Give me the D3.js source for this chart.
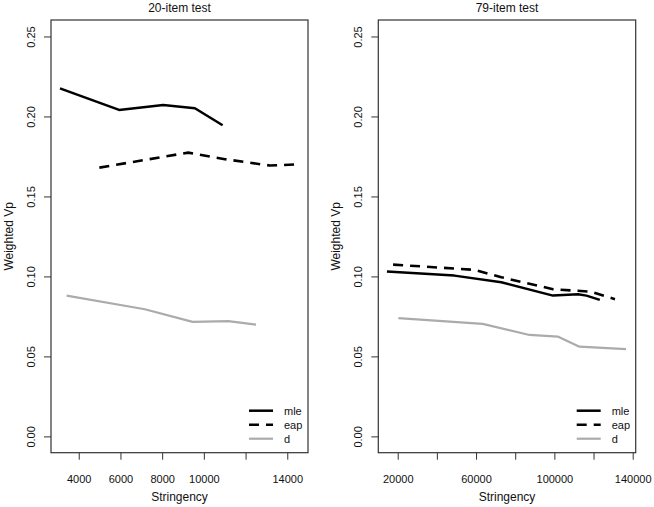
<!DOCTYPE html>
<html>
<head>
<meta charset="utf-8">
<script src="https://cdn.jsdelivr.net/npm/d3@7"></script>
<style>
  body { margin: 0; background: #fff; }
  text { font-family: "Liberation Sans", Arial, sans-serif; fill: #111; }
</style>
</head>
<body>
<svg id="chart"></svg>
<script>
// 20-item test
const s20Mle = [3100, 5935, 8050, 9570, 10900];
const vp20Mle = [0.2176, 0.2041, 0.2072, 0.2051, 0.1945];
const s20Eap = [4990, 9250, 11010, 13170, 14530];
const vp20Eap = [0.168, 0.1774, 0.1733, 0.1693, 0.1701];
const s20D = [3420, 7170, 9460, 11170, 12500];
const vp20D = [0.088, 0.0795, 0.0716, 0.072, 0.0699];

// 79-item test
const s79Mle = [14500, 48950, 72900, 99300, 112100, 116400, 123200];
const vp79Mle = [0.103, 0.1005, 0.0964, 0.088, 0.0889, 0.088, 0.0853];
const s79Eap = [17650, 59300, 72900, 99300, 118300, 130950];
const vp79Eap = [0.1074, 0.1041, 0.0995, 0.092, 0.0905, 0.0858];
const s79D = [20350, 63400, 87300, 101700, 112800, 136600];
const vp79D = [0.0739, 0.0703, 0.0634, 0.0624, 0.0561, 0.0545];

const yTicks = [0, 0.05, 0.10, 0.15, 0.20, 0.25];
const xTicks20 = [4000, 6000, 8000, 10000, 12000, 14000];
const xLabels20 = ["4000", "6000", "8000", "10000", "", "14000"];
const xTicks79 = [20000, 40000, 60000, 80000, 100000, 120000, 140000];
const xLabels79 = ["20000", "", "60000", "", "100000", "", "140000"];
const seriesNames = ["mle", "eap", "d"];

const width = 654, height = 507;
const plotTop = 20, plotBottom = 452.7;

const svg = d3.select("#chart").attr("width", width).attr("height", height);

const styles = {
  mle: { stroke: "#000", width: 2.5, dash: null },
  eap: { stroke: "#000", width: 2.6, dash: "10,7" },
  d: { stroke: "#ababab", width: 2.2, dash: null }
};

const panels = [
  {
    title: "20-item test", left: 51, right: 308, xDomain: [2670, 14994],
    xTicks: xTicks20, xLabels: xLabels20,
    series: { mle: [s20Mle, vp20Mle], eap: [s20Eap, vp20Eap], d: [s20D, vp20D] }
  },
  {
    title: "79-item test", left: 378.3, right: 635.7, xDomain: [10090, 141530],
    xTicks: xTicks79, xLabels: xLabels79,
    series: { mle: [s79Mle, vp79Mle], eap: [s79Eap, vp79Eap], d: [s79D, vp79D] }
  }
];

const y = d3.scaleLinear().domain([-0.0102, 0.2603]).range([plotBottom, plotTop]);

panels.forEach(p => {
  const x = d3.scaleLinear().domain(p.xDomain).range([p.left, p.right]);
  const g = svg.append("g");

  // title
  g.append("text")
    .attr("x", (p.left + p.right) / 2)
    .attr("y", 12)
    .attr("text-anchor", "middle")
    .style("font-size", "12px")
    .text(p.title);

  // lines
  const line = d3.line().x(d => x(d[0])).y(d => y(d[1]));
  seriesNames.forEach(name => {
    const [xs, ys] = p.series[name];
    const pts = xs.map((v, i) => [v, ys[i]]);
    const st = styles[name];
    g.append("path")
      .datum(pts)
      .attr("d", line)
      .attr("fill", "none")
      .attr("stroke", st.stroke)
      .attr("stroke-width", st.width)
      .attr("stroke-linejoin", "round")
      .attr("stroke-dasharray", st.dash);
  });

  // x axis
  const xAxis = d3.axisBottom(x)
    .tickValues(p.xTicks)
    .tickSize(7)
    .tickPadding(16)
    .tickFormat((d, i) => p.xLabels[i]);
  const gx = g.append("g")
    .attr("transform", `translate(0,${plotBottom})`)
    .call(xAxis);
  gx.select(".domain").remove();
  gx.selectAll(".tick line").attr("stroke", "#333");
  gx.selectAll(".tick text")
    .style("font-size", "11px")
    .style("font-family", "Liberation Sans, Arial, sans-serif")
    .attr("fill", "#111");

  // y axis
  const yAxis = d3.axisLeft(y)
    .tickValues(yTicks)
    .tickSize(7)
    .tickFormat(d3.format(".2f"));
  const gy = g.append("g")
    .attr("transform", `translate(${p.left},0)`)
    .call(yAxis);
  gy.select(".domain").remove();
  gy.selectAll(".tick line").attr("stroke", "#333");
  gy.selectAll(".tick text")
    .attr("x", null).attr("dy", null)
    .attr("transform", "translate(-20,0) rotate(-90)")
    .attr("text-anchor", "middle")
    .attr("dy", "0.35em")
    .attr("fill", "#111")
    .style("font-size", "11px")
    .style("font-family", "Liberation Sans, Arial, sans-serif");

  // box
  g.append("rect")
    .attr("x", p.left).attr("y", plotTop)
    .attr("width", p.right - p.left).attr("height", plotBottom - plotTop)
    .attr("fill", "none")
    .attr("stroke", "#333")
    .attr("stroke-width", 1.2);

  // axis titles
  g.append("text")
    .attr("x", (p.left + p.right) / 2)
    .attr("y", 501)
    .attr("text-anchor", "middle")
    .style("font-size", "12px")
    .text("Stringency");

  g.append("text")
    .attr("transform", `translate(${p.left - 38},${(plotTop + plotBottom) / 2}) rotate(-90)`)
    .attr("text-anchor", "middle")
    .style("font-size", "12px")
    .text("Weighted Vp");

  // legend
  const leg = g.append("g");
  seriesNames.forEach((name, i) => {
    const ly = plotBottom - 42 + i * 14;
    const st = styles[name];
    leg.append("line")
      .attr("x1", p.right - 59).attr("x2", p.right - 35)
      .attr("y1", ly).attr("y2", ly)
      .attr("stroke", st.stroke)
      .attr("stroke-width", st.width)
      .attr("stroke-dasharray", st.dash);
    leg.append("text")
      .attr("x", p.right - 24)
      .attr("y", ly)
      .attr("dy", "0.35em")
      .style("font-size", "11px")
      .text(name);
  });
});
</script>
</body>
</html>
